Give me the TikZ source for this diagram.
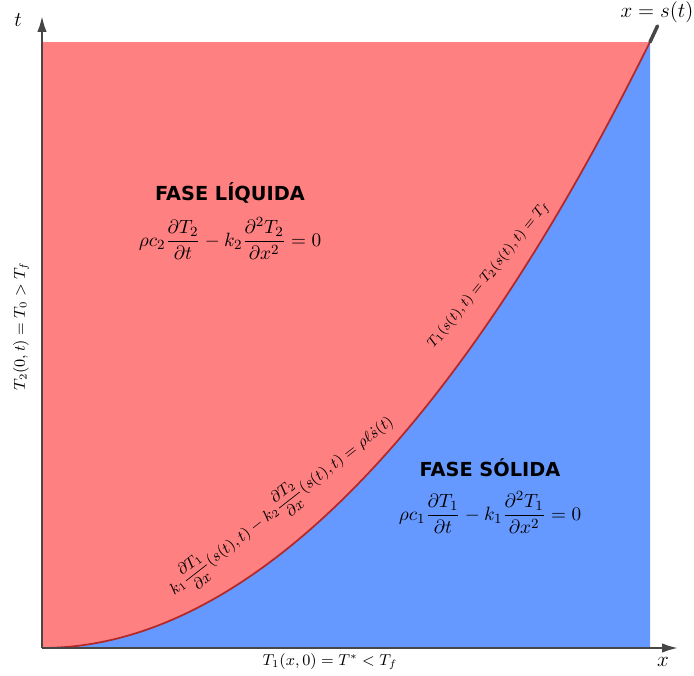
\documentclass[tikz,border=0pt]{standalone}
\usepackage{amsmath,amssymb}
\usepackage{fontspec}
\newfontfamily\phasefont{DejaVu Sans}
\usetikzlibrary{positioning, arrows.meta, calc}
\definecolor{liquidRed}{RGB}{255,128,128}
\definecolor{solidBlue}{RGB}{102,153,255}
\definecolor{frontRed}{RGB}{180,40,40}
\definecolor{axisGray}{RGB}{70,70,70}

\begin{document}
\begin{tikzpicture}[
				axis/.style={draw=axisGray, line width=1.7pt, -{Latex[length=3.4mm, width=1.9mm]}},
				phase/.style={font=\phasefont\bfseries\fontsize{11}{13}\selectfont, inner sep=1pt},
				eqn/.style={font=\fontsize{11}{13}\selectfont, inner sep=1pt},
				cond/.style={font=\small, inner sep=1pt}]
				\useasboundingbox (-0.84,-0.54) rectangle (13.04,12.96);
				\coordinate (O) at (0,0);
				\coordinate (S) at (12.16,12.12);
				\coordinate (Sx) at (12.16,0);
				\coordinate (xtip) at (12.74,0);
				\coordinate (ttip) at (0,12.66);
				\coordinate (Stop) at ($(S)+(0.15,0.32)$);
				% regions
				\fill[liquidRed] (O) rectangle (S);
				\fill[solidBlue] (O) parabola (S) -- (Sx) -- cycle;
				\draw[frontRed, line width=1pt] (O) parabola (S);
				\draw[axisGray, line width=2pt, line cap=round] (S) -- (Stop);
				% axes
				\draw[axis] (O) -- (xtip);
				\draw[axis] (O) -- (ttip);
				\node[font=\large] (tlab) at (-0.48,12.56) {$t$};
				\node[font=\large] (xlab) at (12.42,-0.28) {$x$};
				\node[font=\large] (slab) at (12.3,12.72) {$x=s(t)$};
				\node[cond] (init) at (5.76,-0.28) {$T_1(x,0)=T^{*}<T_f$};
				\node[cond, font=\fontsize{8.7}{10}\selectfont, rotate=90] (wall) at (-0.42,6.44) {$T_2(0,t)=T_0>T_f$};
				% interface conditions
				\node[cond, font=\fontsize{8.4}{10}\selectfont, rotate=51] (stefan1) at (8.94,7.46) {$T_1(s(t),t)=T_2(s(t),t)=T_f$};
				\node[cond, rotate=38] (stefan2) at (4.78,2.86) {$k_1\dfrac{\partial T_1}{\partial x}(s(t),t)-k_2\dfrac{\partial T_2}{\partial x}(s(t),t)=\rho\ell\dot{s}(t)$};
				% phases
				\node[phase] (liq) at (3.76,9.1) {FASE LÍQUIDA};
				\node[eqn, below=0.2cm of liq] (liqeq) {$\displaystyle\rho c_2\frac{\partial T_2}{\partial t}-k_2\frac{\partial^2 T_2}{\partial x^2}=0$};
				\node[phase] (sol) at (8.96,3.6) {FASE SÓLIDA};
				\node[eqn, below=0.2cm of sol] (soleq) {$\displaystyle\rho c_1\frac{\partial T_1}{\partial t}-k_1\frac{\partial^2 T_1}{\partial x^2}=0$};
			\end{tikzpicture}
\end{document}
